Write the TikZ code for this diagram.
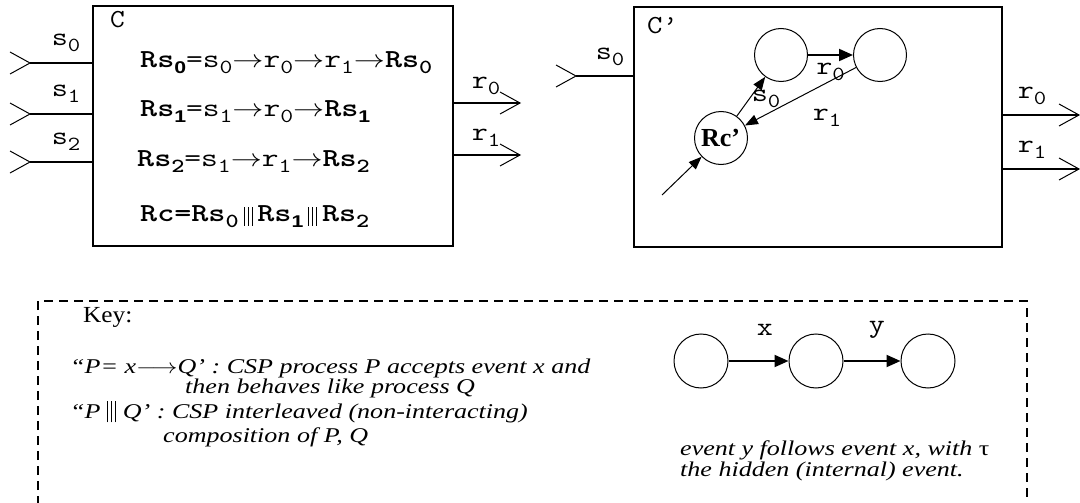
\documentclass[tikz,border=0pt]{standalone}
\usepackage{fontspec}
\setmainfont{Liberation Serif}
\newfontfamily\hvfont{Liberation Sans}
\usetikzlibrary{arrows.meta}
\newcommand{\subsz}{\fontsize{20}{20}\selectfont}
\newcommand{\msb}[2]{\texttt{#1\raisebox{-6pt}{\subsz #2}}}
\newcommand{\bsm}[2]{\texttt{\bfseries #1\raisebox{-6pt}{\subsz #2}}}
\newcommand{\bss}[2]{\texttt{\bfseries #1}\raisebox{-6pt}{\fontsize{17}{17}\selectfont\hvfont\bfseries #2}}
\newcommand{\ra}{$\rightarrow$}
\newcommand{\tbar}{\hspace{4pt}\raisebox{-4pt}{\rule{0.6pt}{19pt}\hspace{2.6pt}\rule{0.6pt}{19pt}\hspace{2.6pt}\rule{0.6pt}{19pt}}\hspace{4pt}}
\newcommand{\kbar}{\raisebox{-4pt}{\rule{0.9pt}{21pt}\hspace{2.4pt}\rule{0.9pt}{21pt}\hspace{2.4pt}\rule{0.9pt}{21pt}}}
\tikzset{
  frame/.style={draw, line width=2pt, inner sep=0pt},
  wire/.style={line width=2pt},
  chev/.style={line width=1pt},
  lbl/.style={font=\ttfamily\fontsize{26}{26}\selectfont, inner sep=0pt},
  proc/.style={anchor=west, inner sep=0pt, font=\fontsize{26}{26}\selectfont},
  st/.style={draw, circle, minimum size=53pt, inner sep=0pt, line width=1pt},
  tr/.style={line width=1pt, -{Triangle[length=13pt,width=10pt]}},
  trb/.style={line width=2pt, -{Triangle[length=14pt,width=12pt]}},
  key/.style={anchor=west, inner sep=0pt, font=\itshape\fontsize{21}{21}\selectfont, align=left},
}
\begin{document}
\begin{tikzpicture}[x=1pt,y=-1pt]
\useasboundingbox (0,0) rectangle (1080,503);
% ---- box C
\node[frame, minimum width=360pt, minimum height=240pt] (C) at (273,126) {};
\node[lbl, anchor=west] (Clab) at (110,20) {\scalebox{1.1}[1]{C}};
\foreach \i/\y in {0/63,1/114,2/162}{
  \coordinate (in\i) at (30,\y);
  \draw[wire] (in\i) -- (in\i -| C.west);
  \draw[chev] ([shift={(-20,-11)}]in\i) -- (in\i) -- ([shift={(-20,11)}]in\i);
  \node[lbl] (sl\i) at (66,\y-20) {\scalebox{1.2}[1]{s\raisebox{-6pt}{\subsz\i}}};
}
\foreach \i/\y in {0/103,1/155}{
  \coordinate (out\i) at (520,\y);
  \draw[wire] (C.east |- out\i) -- (out\i);
  \draw[chev] ([shift={(-20,-11)}]out\i) -- (out\i) -- ([shift={(-20,11)}]out\i);
  \node[lbl] (rl\i) at (486,\y-17) {\scalebox{1.2}[1]{r\raisebox{-6pt}{\subsz\i}}};
}
\node[proc] (p0) at (140,63) {\scalebox{1.25}[1]{\bss{Rs}{0}\texttt{=}\msb{s}{0}\ra\msb{r}{0}\ra\msb{r}{1}\ra\bsm{Rs}{0}}};
\node[proc] (p1) at (140,112) {\scalebox{1.25}[1]{\bss{Rs}{1}\texttt{=}\msb{s}{1}\ra\msb{r}{0}\ra\bss{Rs}{1}}};
\node[proc] (p2) at (137,162) {\scalebox{1.25}[1]{\bsm{Rs}{2}\texttt{=}\msb{s}{1}\ra\msb{r}{1}\ra\bsm{Rs}{2}}};
\node[proc] (p3) at (140,217) {\scalebox{1.25}[1]{\texttt{\bfseries Rc=}\bsm{Rs}{0}\tbar\bss{Rs}{1}\tbar\bsm{Rs}{2}}};
% ---- box C'
\node[frame, minimum width=368pt, minimum height=240pt] (Cp) at (818,127) {};
\node[lbl, anchor=west] (Cplab) at (647,26) {\scalebox{1.15}[1]{C’}};
\coordinate (cin) at (576,76);
\draw[wire] (cin) -- (cin -| Cp.west);
\draw[chev] ([shift={(-20,-11)}]cin) -- (cin) -- ([shift={(-20,11)}]cin);
\node[lbl] (csl) at (610,57) {\scalebox{1.2}[1]{s\raisebox{-6pt}{\subsz 0}}};
\foreach \i/\y in {0/115,1/169}{
  \coordinate (cout\i) at (1079,\y);
  \draw[wire] (Cp.east |- cout\i) -- (cout\i);
  \draw[chev] ([shift={(-20,-11)}]cout\i) -- (cout\i) -- ([shift={(-20,11)}]cout\i);
  \node[lbl] (crl\i) at (1032,\y-19) {\scalebox{1.2}[1]{r\raisebox{-6pt}{\subsz\i}}};
}
\node[st] (a) at (781,55) {};
\node[st] (b) at (880,55) {};
\node[st, font=\bfseries\fontsize{26}{26}\selectfont] (rc) at (721,138) {\kern-1pt Rc’};
\coordinate (start) at (662,195);
\draw[trb] (a) -- (b) node[lbl, midway, below=7pt] (lr0) {\scalebox{1.2}[1]{r\raisebox{-6pt}{\subsz 0}}};
\draw[tr] (rc) -- (a);
\node[lbl] (ls0) at (766,99) {\scalebox{1.2}[1]{s\raisebox{-6pt}{\subsz 0}}};
\draw[tr] (b) -- (rc);
\node[lbl] (lr1) at (827,118) {\scalebox{1.2}[1]{r\raisebox{-6pt}{\subsz 1}}};
\draw[tr] (start) -- (rc);
% ---- key
\draw[line width=1.5pt, dash pattern=on 9pt off 6pt] (38,520) -- (38,301) -- (1027,301) -- (1027,520);
\node[anchor=west, inner sep=0pt, font=\fontsize{23}{23}\selectfont] (keyt) at (83,317) {\scalebox{1.1}[1]{Key:}};
\node[key] (k1) at (70,368) {\scalebox{1.24}[1]{“\textit{P}= \textit{x}{\upshape$\longrightarrow$}\textit{Q}’ : CSP process \textit{P} accepts event \textit{x} and}};
\node[key] (k2) at (185,388) {\scalebox{1.24}[1]{then behaves like process \textit{Q}}};
\node[key] (k3) at (70,412) {\scalebox{1.24}[1]{“\textit{P} \kbar{} \textit{Q}’ : CSP interleaved (non-interacting)}};
\node[key] (k4) at (163,437) {\scalebox{1.24}[1]{composition of \textit{P}, \textit{Q}}};
\node[st, minimum size=54pt] (e1) at (701,361) {};
\node[st, minimum size=54pt] (e2) at (816,361) {};
\node[st, minimum size=54pt] (e3) at (928,361) {};
\draw[trb] (e1) -- (e2);
\draw[trb] (e2) -- (e3);
\node[lbl] (lx) at (765,330) {\scalebox{1.2}[1]{x}};
\node[lbl] (ly) at (877,330) {\scalebox{1.2}[1]{y}};
\node[key] (k5) at (680,450) {\scalebox{1.24}[1]{event y follows event x, with {\upshape τ}}};
\node[key] (k6) at (680,471) {\scalebox{1.24}[1]{the hidden (internal) event.}};
\end{tikzpicture}
\end{document}
